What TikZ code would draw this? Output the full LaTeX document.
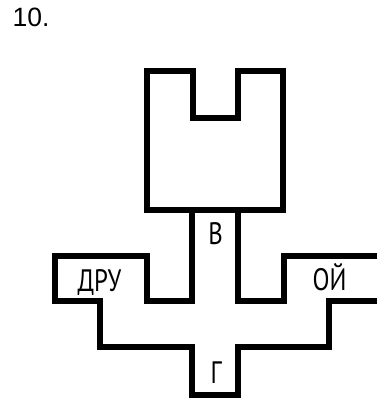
\documentclass[tikz,border=0pt]{standalone}
\usepackage{fontspec}
\setmainfont{Liberation Sans}
\newfontfamily\numfont{Liberation Sans}
\newfontfamily\lblfont{PT Sans}
\newcommand{\narrowtxt}[1]{\scalebox{0.8}[1]{#1}}
\begin{document}
\begin{tikzpicture}[x=1pt,y=-1pt,
  wall/.style={line width=6pt, line join=miter, draw=black},
  lbl/.style={font=\lblfont\fontsize{31}{33}\selectfont, anchor=base, inner sep=0pt},
  numlbl/.style={font=\numfont\fontsize{26.5}{28}\selectfont, anchor=base west, inner sep=0pt}]
\useasboundingbox (0,0) rectangle (376,404);
\fill[white] (0,0) rectangle (376,404);
% top box
\draw[wall] (147,210) -- (147,71) -- (193,71) -- (193,118) -- (238,118) -- (238,71) -- (283,71) -- (283,210) -- cycle;
% lower shape
\draw[wall] (192,210) -- (192,301) -- (147,301) -- (147,256) -- (55,256) -- (55,301) -- (100,301) -- (100,347) -- (192,347) -- (192,395) -- (238,395) -- (238,347) -- (329,347) -- (329,301) -- (380,301) -- (380,256) -- (284,256) -- (284,301) -- (238,301) -- (238,210);
\node[numlbl] (num) at (12.5,27) {10.};
\node[lbl] (v) at (215.5,244) {\narrowtxt{В}};
\node[lbl] (dru) at (99.5,291) {\narrowtxt{ДРУ}};
\node[lbl] (oy) at (329.5,290) {\narrowtxt{ОЙ}};
\node[lbl] (g) at (216,383) {\narrowtxt{Г}};
\end{tikzpicture}
\end{document}
